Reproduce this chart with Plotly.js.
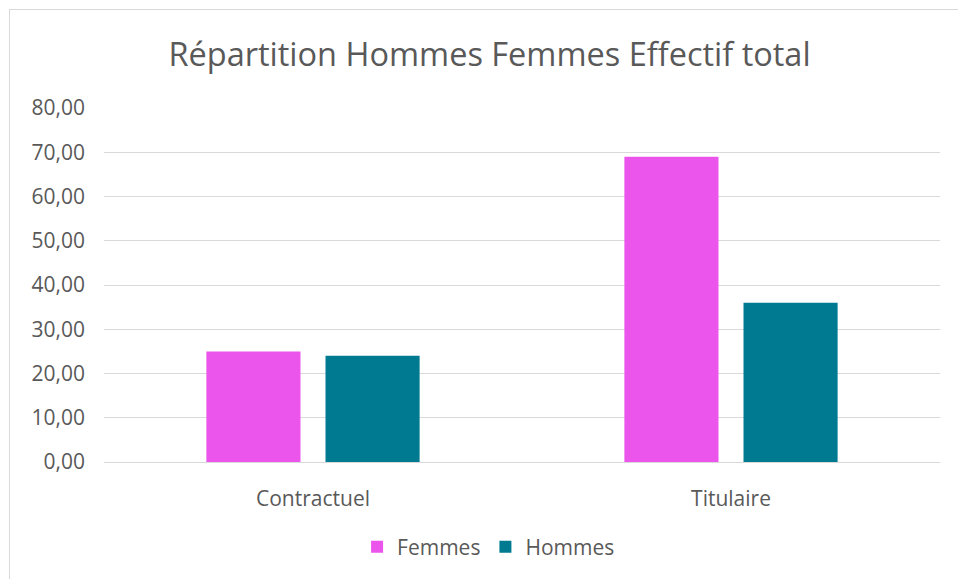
<!DOCTYPE html>
<html>
<head>
<meta charset="utf-8">
<script src="https://cdn.plot.ly/plotly-3.0.1.min.js"></script>
<style>
html,body{margin:0;padding:0;background:#fff;overflow:hidden;}
#wrap{position:relative;width:958px;height:579px;}
#chart{position:absolute;left:0;top:0;width:958px;height:579px;}
#frame{position:absolute;left:9px;top:9px;width:960px;height:600px;border-left:1px solid #d9d9d9;border-top:1px solid #d9d9d9;pointer-events:none;}
</style>
</head>
<body>
<div id="wrap"><div id="chart"></div><div id="frame"></div></div>
<script>
const categories = ["Contractuel", "Titulaire"];
const femmes = [25, 69];
const hommes = [24, 36];
const yTickVals = [0, 10, 20, 30, 40, 50, 60, 70, 80];
const yTickText = ["0,00", "10,00", "20,00", "30,00", "40,00", "50,00", "60,00", "70,00", "80,00"];
const seriesNames = ["Femmes", "Hommes"];
const titleText = "Répartition Hommes Femmes Effectif total";

const fontFam = "'Open Sans', 'DejaVu Sans', sans-serif";
const txtCol = "#595959";

const traces = [
  {type: "bar", name: seriesNames[0], x: categories, y: femmes,
   marker: {color: "#EB55EB"}, hoverinfo: "none"},
  {type: "bar", name: seriesNames[1], x: categories, y: hommes,
   marker: {color: "#007A91"}, hoverinfo: "none"}
];

const layout = {
  width: 958, height: 579,
  paper_bgcolor: "#fff", plot_bgcolor: "#fff",
  margin: {l: 104, r: 18, t: 108, b: 117},
  barmode: "group", bargap: 0.43, bargroupgap: 0.21,
  title: {text: titleText, font: {family: fontFam, size: 32.5, color: txtCol},
          xref: "container", x: 0.511, xanchor: "center", yref: "container", y: 0.906, yanchor: "middle"},
  font: {family: fontFam, color: txtCol},
  xaxis: {showgrid: false, showline: true, linecolor: "#d9d9d9", linewidth: 1,
          ticks: "", tickfont: {family: fontFam, size: 21, color: txtCol},
          ticklabelstandoff: 18, fixedrange: true},
  yaxis: {range: [0, 80], tickvals: yTickVals, ticktext: yTickText,
          showgrid: true, gridcolor: "#d9d9d9", gridwidth: 1, zeroline: false,
          showline: false, ticks: "", tickfont: {family: fontFam, size: 21, color: txtCol},
          ticklabelstandoff: 18, fixedrange: true},
  showlegend: true,
  legend: {orientation: "h", x: 0.51, xref: "container", xanchor: "center",
           y: 0.055, yref: "container", yanchor: "middle",
           font: {family: fontFam, size: 21, color: txtCol}, itemwidth: 20},
};

Plotly.newPlot("chart", traces, layout, {staticPlot: true, displayModeBar: false});
</script>
</body>
</html>
